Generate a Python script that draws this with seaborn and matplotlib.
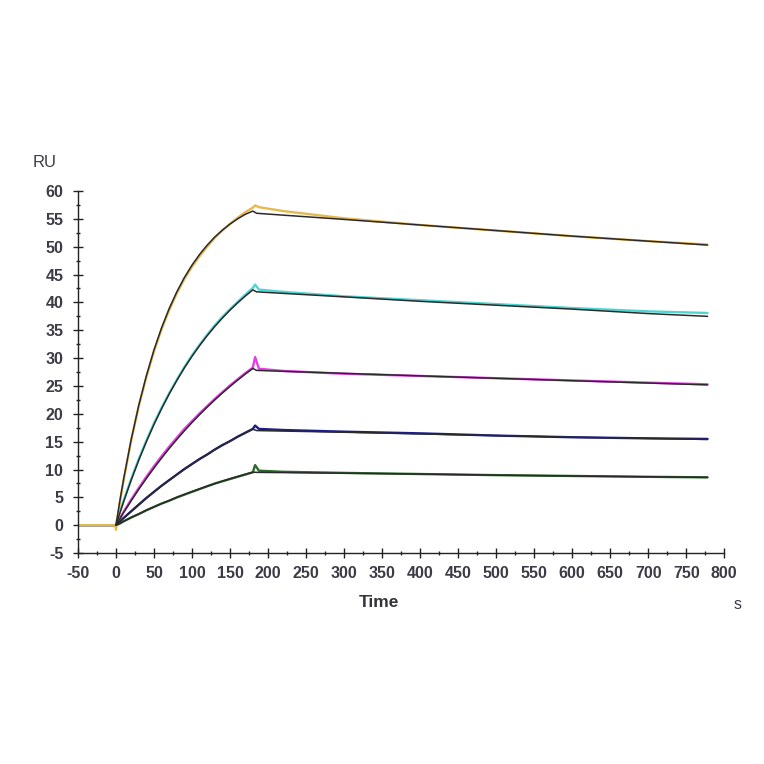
import pandas as pd
import matplotlib
matplotlib.use("Agg")
import matplotlib.pyplot as plt
import seaborn as sns

data_time = [-50, -1, 0, 5, 10, 20, 30, 40, 50, 60, 70, 80, 90, 100, 110, 120, 130,
             140, 150, 160, 170, 180, 183, 188, 220, 300, 400, 500, 600, 700, 778]
green = [0, 0, 0, 0.3, 0.7, 1.4, 2.0, 2.7, 3.3, 3.9, 4.4, 5.0, 5.5, 6.0, 6.5, 7.0, 7.5,
         7.9, 8.3, 8.7, 9.1, 9.5, 10.8, 9.8, 9.6, 9.4, 9.2, 9.0, 8.85, 8.7, 8.6]
blue = [0, 0, 0.1, 0.7, 1.3, 2.5, 3.7, 4.9, 6.0, 7.1, 8.1, 9.1, 10.1, 11.0, 11.9, 12.7, 13.6,
        14.4, 15.1, 15.9, 16.6, 17.3, 17.9, 17.3, 17.1, 16.8, 16.5, 16.1, 15.8, 15.6, 15.5]
magenta = [0, 0, 0.1, 1.2, 2.4, 4.6, 6.7, 8.7, 10.6, 12.4, 14.1, 15.7, 17.3, 18.7, 20.1, 21.4, 22.7,
           23.9, 25.1, 26.2, 27.3, 28.3, 30.2, 28.1, 27.7, 27.2, 26.8, 26.4, 26.0, 25.6, 25.3]
cyan = [0, 0, 0.2, 2.3, 4.4, 8.3, 11.9, 15.2, 18.3, 21.1, 23.7, 26.1, 28.4, 30.5, 32.4, 34.2, 35.9,
        37.4, 38.8, 40.1, 41.4, 42.6, 43.2, 42.3, 41.9, 41.1, 40.4, 39.7, 39.0, 38.4, 38.1]
yellow = [0, 0, -0.8, 4.0, 8.0, 15.2, 21.4, 26.6, 31.2, 35.2, 38.6, 41.6, 44.2, 46.4, 48.3, 50.0, 51.6,
          52.9, 54.1, 55.2, 56.2, 57.0, 57.4, 57.1, 56.4, 55.1, 53.9, 52.9, 51.9, 51.0, 50.4]

fit_time = [0, 5, 10, 20, 30, 40, 50, 60, 70, 80, 90, 100, 110, 120, 130, 140, 150, 160, 170, 180,
            185, 300, 400, 500, 600, 700, 778]
fit_green = [0, 0.36, 0.71, 1.39, 2.05, 2.68, 3.29, 3.89, 4.45, 5.0, 5.53, 6.05, 6.54, 7.02, 7.47,
             7.92, 8.35, 8.76, 9.15, 9.54, 9.5, 9.35, 9.2, 9.0, 8.85, 8.7, 8.6]
fit_blue = [0, 0.65, 1.29, 2.53, 3.73, 4.88, 6.0, 7.07, 8.1, 9.09, 10.05, 10.98, 11.87, 12.73, 13.56,
            14.35, 15.12, 15.86, 16.57, 17.26, 17.0, 16.7, 16.4, 16.1, 15.8, 15.6, 15.4]
fit_magenta = [0, 1.14, 2.25, 4.39, 6.44, 8.40, 10.27, 12.06, 13.77, 15.39, 16.95, 18.44, 19.85, 21.21,
               22.5, 23.74, 24.92, 26.05, 27.13, 28.15, 27.8, 27.27, 26.82, 26.38, 25.95, 25.53, 25.2]
fit_cyan = [0, 2.14, 4.20, 8.09, 11.68, 15.01, 18.09, 20.93, 23.56, 25.99, 28.25, 30.33, 32.26, 34.04,
            35.68, 37.21, 38.62, 39.92, 41.13, 42.25, 41.9, 41.0, 40.2, 39.5, 38.8, 38.0, 37.5]
fit_yellow = [0, 4.27, 8.24, 15.37, 21.53, 26.84, 31.47, 35.44, 38.9, 41.88, 44.47, 46.69, 48.62, 50.29,
              51.74, 52.99, 54.07, 55.0, 55.81, 56.4, 56.0, 54.9, 53.9, 52.9, 51.9, 51.0, 50.3]

x_ticks = list(range(-50, 801, 50))
y_ticks = list(range(-5, 61, 5))

sns.set_style("white")
plt.rcParams['font.family'] = ['Liberation Sans', 'DejaVu Sans']
plt.rcParams['axes.unicode_minus'] = False

fig = plt.figure(figsize=(7.64, 7.64), dpi=100)
ax = fig.add_axes([0.102, 0.276, 0.846, 0.474])

series = [("green", green, "#2e6b2e"), ("blue", blue, "#1c1c8c"),
          ("magenta", magenta, "#e83ce6"), ("cyan", cyan, "#4fd6d2"),
          ("yellow", yellow, "#e6b850")]
for name, vals, col in series:
    df = pd.DataFrame({"t": data_time, "ru": vals})
    sns.lineplot(data=df, x="t", y="ru", color=col, lw=1.7, sort=False, ax=ax)

fits = [fit_green, fit_blue, fit_magenta, fit_cyan, fit_yellow]
for vals in fits:
    df = pd.DataFrame({"t": fit_time, "ru": vals})
    sns.lineplot(data=df, x="t", y="ru", color="#2a2a2a", lw=1.1, sort=False, ax=ax)

ax.set_xlim(-50, 800)
ax.set_ylim(-5, 60)
ax.set_xticks(x_ticks)
ax.set_yticks(y_ticks)
ax.set_xticks([v + 25 for v in x_ticks[:-1]], minor=True)
ax.set_yticks([v + 2.5 for v in y_ticks[:-1]], minor=True)
ax.tick_params(which="major", direction="inout", length=7, width=1, color="#222222",
               labelsize=11.5, labelcolor="#3c3c46")
ax.tick_params(axis="x", which="major", pad=6)
ax.tick_params(axis="y", which="major", pad=7)
ax.tick_params(which="minor", direction="inout", length=3, width=1, color="#222222")
ax.tick_params(axis="x", which="both", bottom=True)
ax.tick_params(axis="y", which="both", left=True)
for lab in ax.get_xticklabels() + ax.get_yticklabels():
    lab.set_fontweight("bold")

for side in ["top", "right"]:
    ax.spines[side].set_visible(False)
for side in ["left", "bottom"]:
    ax.spines[side].set_color("#222222")
    ax.spines[side].set_linewidth(1)

ax.set_xlabel("")
ax.set_ylabel("")
fig.text(0.496, 0.212, "Time", ha="center", va="center", fontsize=12.5, fontweight="bold", color="#333338")
fig.text(0.966, 0.209, "s", ha="center", va="center", fontsize=11.5, color="#3c3c46")
fig.text(0.059, 0.787, "RU", ha="center", va="center", fontsize=12, color="#3c3c46")

fig.savefig("out.png", dpi=100)
